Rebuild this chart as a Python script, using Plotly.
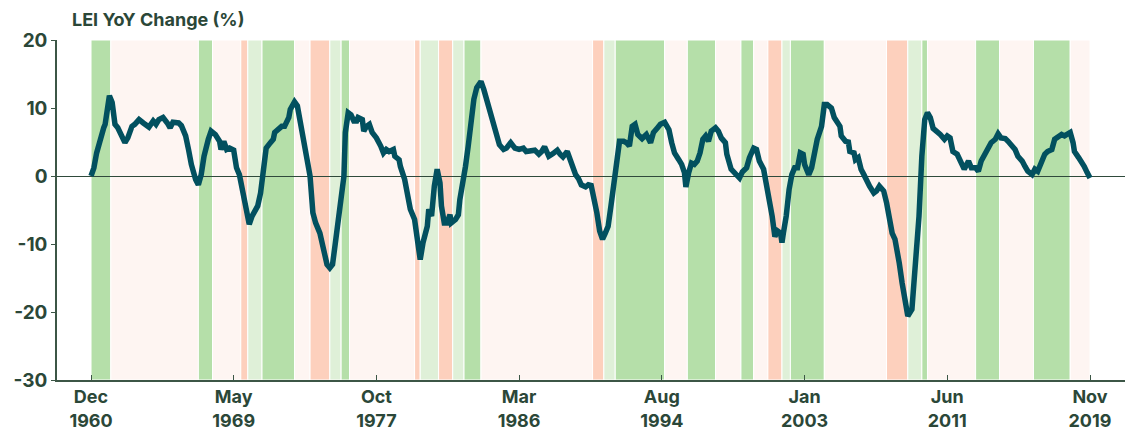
import pandas as pd
import plotly.graph_objects as go

# Monthly year-over-year change of the Leading Economic Index (%)
lei_dates = [
    "1960-12", "1961-02", "1961-04", "1961-06", "1961-09", "1961-10", "1961-12", "1962-01",
    "1962-03", "1962-04", "1962-05", "1962-07", "1962-09", "1962-12", "1963-02", "1963-05",
    "1963-07", "1963-10", "1964-01", "1964-05", "1964-08", "1964-10", "1964-12", "1965-03",
    "1965-06", "1965-08", "1965-10", "1966-02", "1966-04", "1966-07", "1966-09", "1966-11",
    "1967-02", "1967-04", "1967-06", "1967-08", "1967-11", "1968-01", "1968-04", "1968-07",
    "1968-08", "1968-10", "1968-12", "1969-02", "1969-05", "1969-07", "1969-09", "1969-11",
    "1970-02", "1970-04", "1970-06", "1970-08", "1970-10", "1970-12", "1971-02", "1971-04",
    "1971-07", "1971-09", "1971-10", "1972-01", "1972-03", "1972-05", "1972-08", "1972-09",
    "1972-12", "1973-02", "1973-04", "1973-06", "1973-08", "1973-11", "1974-01", "1974-03",
    "1974-06", "1974-08", "1974-11", "1975-01", "1975-03", "1975-05", "1975-08", "1975-11",
    "1975-12", "1976-02", "1976-04", "1976-06", "1976-08", "1976-09", "1976-12", "1977-01",
    "1977-03", "1977-05", "1977-07", "1977-10", "1978-01", "1978-03", "1978-05", "1978-07",
    "1978-10", "1978-11", "1979-02", "1979-03", "1979-06", "1979-08", "1979-10", "1980-01",
    "1980-03", "1980-05", "1980-07", "1980-10", "1980-11", "1981-01", "1981-03", "1981-05",
    "1981-07", "1981-08", "1981-10", "1981-12", "1982-02", "1982-03", "1982-06", "1982-08",
    "1982-09", "1982-11", "1983-01", "1983-03", "1983-05", "1983-07", "1983-09", "1983-12",
    "1984-02", "1984-04", "1984-06", "1984-09", "1984-11", "1985-01", "1985-04", "1985-06",
    "1985-09", "1985-12", "1986-03", "1986-06", "1986-08", "1986-12", "1987-02", "1987-05",
    "1987-07", "1987-09", "1987-12", "1988-03", "1988-06", "1988-08", "1988-10", "1989-01",
    "1989-03", "1989-05", "1989-07", "1989-09", "1989-11", "1990-02", "1990-04", "1990-06",
    "1990-08", "1990-10", "1990-12", "1991-02", "1991-04", "1991-06", "1991-08", "1991-10",
    "1991-12", "1992-02", "1992-05", "1992-07", "1992-09", "1992-11", "1993-01", "1993-03",
    "1993-06", "1993-09", "1993-12", "1994-02", "1994-05", "1994-07", "1994-10", "1995-01",
    "1995-03", "1995-05", "1995-08", "1995-10", "1995-12", "1996-01", "1996-03", "1996-05",
    "1996-07", "1996-09", "1996-11", "1997-01", "1997-03", "1997-05", "1997-07", "1997-10",
    "1997-12", "1998-02", "1998-05", "1998-06", "1998-09", "1998-12", "1999-03", "1999-05",
    "1999-08", "1999-10", "2000-01", "2000-03", "2000-05", "2000-08", "2000-10", "2000-12",
    "2001-02", "2001-04", "2001-06", "2001-08", "2001-09", "2001-10", "2001-12", "2002-02",
    "2002-04", "2002-06", "2002-08", "2002-10", "2002-12", "2003-01", "2003-04", "2003-06",
    "2003-08", "2003-10", "2004-01", "2004-03", "2004-05", "2004-08", "2004-10", "2004-12",
    "2005-02", "2005-03", "2005-06", "2005-08", "2005-09", "2005-12", "2006-01", "2006-03",
    "2006-05", "2006-07", "2006-09", "2006-11", "2007-02", "2007-04", "2007-06", "2007-09",
    "2007-11", "2008-01", "2008-03", "2008-05", "2008-07", "2008-08", "2008-10", "2008-12",
    "2009-02", "2009-05", "2009-06", "2009-08", "2009-10", "2009-12", "2010-02", "2010-04",
    "2010-06", "2010-08", "2010-11", "2011-01", "2011-04", "2011-06", "2011-08", "2011-10",
    "2012-01", "2012-03", "2012-06", "2012-09", "2012-11", "2013-02", "2013-04", "2013-06",
    "2013-09", "2013-11", "2014-01", "2014-04", "2014-06", "2014-08", "2014-11", "2015-01",
    "2015-04", "2015-06", "2015-08", "2015-11", "2016-01", "2016-03", "2016-06", "2016-08",
    "2016-10", "2017-01", "2017-03", "2017-05", "2017-08", "2017-10", "2018-01", "2018-03",
    "2018-05", "2018-07", "2018-09", "2018-11", "2018-12", "2019-03", "2019-05", "2019-07",
    "2019-09", "2019-11",
]
lei_yoy = [
    0.0, 1.2, 3.4, 5.1, 7.1, 7.6, 11.3, 11.8,
    10.8, 9.3, 7.6, 7.1, 6.1, 4.9, 5.6, 7.3,
    7.6, 8.3, 7.8, 7.2, 8.1, 7.6, 8.3, 8.6,
    7.8, 7.1, 7.9, 7.8, 7.4, 5.9, 3.9, 1.7,
    -0.5, -1.3, 0.2, 2.9, 5.4, 6.6, 6.1, 5.1,
    3.9, 5.1, 3.9, 4.1, 3.8, 1.2, 0.2, -2.0,
    -4.7, -7.1, -5.9, -4.9, -4.4, -2.5, 1.4, 4.1,
    4.9, 5.4, 6.4, 6.8, 7.3, 7.3, 8.6, 9.8,
    10.9, 10.3, 7.8, 6.1, 3.9, 0.0, -5.4, -6.9,
    -8.4, -10.3, -13.0, -13.5, -13.0, -9.8, -5.4, 0.0,
    6.4, 9.3, 9.0, 8.1, 8.1, 8.6, 8.3, 6.6,
    7.3, 7.6, 6.4, 5.6, 4.4, 3.4, 3.9, 3.6,
    3.9, 2.9, 2.4, 1.4, -0.5, -2.5, -4.9, -6.4,
    -9.3, -12.3, -9.8, -7.4, -4.9, -5.9, -1.5, 1.0,
    -1.0, -4.4, -6.9, -6.9, -5.7, -6.9, -6.4, -5.7,
    -3.5, -1.3, 1.4, 4.4, 7.8, 11.3, 13.0, 13.9,
    12.7, 11.3, 9.3, 7.8, 6.1, 4.6, 3.9, 4.1,
    4.9, 4.1, 3.9, 4.1, 3.6, 3.6, 3.8, 3.2,
    3.6, 4.3, 2.9, 3.3, 3.8, 3.2, 2.8, 3.6,
    2.4, 1.3, 0.2, -0.4, -1.3, -1.6, -1.3, -1.4,
    -3.0, -5.4, -8.1, -9.3, -8.4, -7.4, -4.4, -1.5,
    1.4, 5.1, 5.1, 4.9, 4.4, 7.3, 7.6, 6.1,
    5.5, 6.1, 4.9, 6.4, 7.1, 7.6, 7.9, 6.8,
    4.9, 3.4, 2.4, 1.7, 0.5, -1.6, 0.5, 1.9,
    1.7, 2.2, 3.4, 5.4, 5.9, 5.1, 6.6, 7.1,
    6.6, 5.6, 4.9, 3.2, 1.0, 0.2, -0.3, 0.6,
    1.2, 2.7, 4.1, 3.9, 2.2, 1.0, -1.0, -3.9,
    -5.9, -8.9, -8.1, -8.4, -9.8, -8.4, -5.9, -2.0,
    0.2, 1.2, 1.2, 3.4, 3.2, 1.7, 0.2, 1.2,
    3.2, 5.4, 7.3, 10.5, 10.5, 10.0, 8.6, 8.1,
    7.3, 5.9, 5.1, 5.0, 3.6, 3.4, 2.4, 2.7,
    1.0, 0.2, -0.8, -1.5, -2.5, -2.2, -1.5, -2.2,
    -3.9, -5.9, -8.4, -9.3, -11.3, -12.8, -15.7, -18.6,
    -20.6, -19.6, -17.2, -11.8, -5.9, 2.9, 8.3, 9.3,
    8.6, 7.0, 6.5, 6.1, 5.4, 5.9, 5.6, 3.6,
    3.2, 2.4, 1.0, 2.2, 1.2, 1.2, 0.7, 2.2,
    3.4, 3.9, 4.9, 5.4, 6.2, 5.6, 5.5, 5.1,
    4.4, 3.9, 2.9, 2.2, 1.4, 0.7, 0.2, 1.0,
    0.7, 2.4, 3.2, 3.6, 3.9, 5.4, 5.9, 6.1,
    5.9, 6.1, 6.4, 4.9, 3.6, 2.7, 2.2, 1.4,
    0.5, -0.3,
]

# Business-cycle phase bands shaded behind the line
phase_starts = [
    "1960-12", "1962-02", "1967-04", "1968-02", "1969-10", "1970-03", "1971-01", "1972-12",
    "1973-11", "1975-01", "1975-09", "1976-03", "1980-01", "1980-05", "1981-06", "1982-04",
    "1982-12", "1983-12", "1990-07", "1991-03", "1991-11", "1994-10", "1996-02", "1997-10",
    "1999-04", "2000-01", "2000-11", "2001-09", "2002-03", "2004-03", "2007-11", "2009-02",
    "2009-12", "2010-04", "2013-02", "2014-07", "2016-07", "2018-09",
]
phase_ends = phase_starts[1:] + ["2019-11"]
phase_names = [
    "mid", "late", "mid", "late", "recession", "early", "mid", "late",
    "recession", "early", "mid", "late", "recession", "early", "recession", "early",
    "mid", "late", "recession", "early", "mid", "late", "mid", "late",
    "mid", "late", "recession", "early", "mid", "late", "recession", "early",
    "mid", "late", "mid", "late", "mid", "late",
]
phase_colors = {
    "early": "#dff0d8",
    "mid": "#b5dfa9",
    "late": "#fef5f2",
    "recession": "#fdd0bd",
}

tick_dates = ["1960-12", "1969-05", "1977-10", "1986-03", "1994-08", "2003-01", "2011-06", "2019-11"]
tick_labels = [pd.Timestamp(d).strftime("%b<br>%Y") for d in tick_dates]
y_ticks = [-30, -20, -10, 0, 10, 20]

TEXT = "#2b4738"
AXIS = "#3c5646"
LINE = "#02505f"
FONT = "Inter"

fig = go.Figure()

fig.add_trace(go.Scatter(
    x=lei_dates,
    y=lei_yoy,
    mode="lines",
    line=dict(color=LINE, width=5.5),
    hoverinfo="x+y",
))

shapes = []
for start, end, name in zip(phase_starts, phase_ends, phase_names):
    shapes.append(dict(
        type="rect", xref="x", yref="paper",
        x0=start, x1=end, y0=0, y1=1,
        fillcolor=phase_colors[name],
        line=dict(color="white", width=1),
        layer="below",
    ))

fig.update_layout(
    width=1128,
    height=432,
    margin=dict(l=57, r=3, t=40, b=52),
    paper_bgcolor="white",
    plot_bgcolor="white",
    showlegend=False,
    shapes=shapes,
    title=dict(
        text="<b>LEI YoY Change (%)</b>",
        font=dict(family=FONT, size=18, color=TEXT, weight=700),
        x=72 / 1128, xref="container", xanchor="left",
        y=1 - 20 / 432, yref="container", yanchor="middle",
        automargin=False,
    ),
    xaxis=dict(
        type="date",
        range=["1958-11-29", "2021-11-24"],
        automargin=False,
        showgrid=False,
        zeroline=False,
        showline=True,
        linecolor=AXIS,
        linewidth=1.5,
        ticks="inside",
        ticklen=5,
        tickwidth=1,
        tickcolor=AXIS,
        tickvals=tick_dates,
        ticktext=tick_labels,
        tickfont=dict(family=FONT, size=18, color=TEXT, weight=700),
    ),
    yaxis=dict(
        range=[-30, 20],
        automargin=False,
        showgrid=False,
        zeroline=True,
        zerolinecolor="#2f4a3b",
        zerolinewidth=1.3,
        showline=True,
        linecolor=AXIS,
        linewidth=1.5,
        ticks="outside",
        ticklen=4,
        tickwidth=1,
        tickcolor=AXIS,
        tickvals=y_ticks,
        ticktext=[str(v) for v in y_ticks],
        tickfont=dict(family=FONT, size=19, color=TEXT, weight=700),
    ),
)

fig.write_html("out.html")
